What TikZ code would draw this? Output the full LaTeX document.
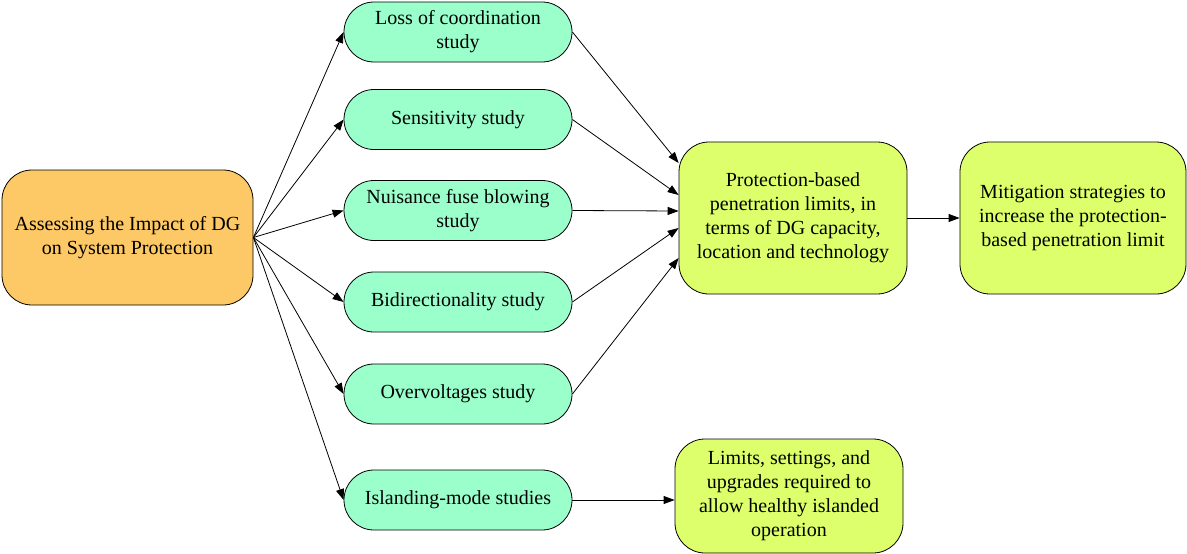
\documentclass[tikz,border=0pt]{standalone}
\usepackage{fontspec}
\setmainfont{Liberation Serif}
\definecolor{rootfill}{HTML}{FDC966}
\definecolor{studyfill}{HTML}{9BFFCC}
\definecolor{limitfill}{HTML}{DDFF6B}
\usetikzlibrary{shapes.misc, arrows.meta}

\begin{document}
\begin{tikzpicture}[x=1pt, y=-1pt,
    root/.style   = {rectangle, rounded corners=30pt, draw=black, line width=0.8pt,
                     fill=rootfill, minimum width=251pt, minimum height=135pt,
                     inner sep=0pt, align=center, font=\fontsize{20}{24}\selectfont},
    study/.style  = {rounded rectangle, draw=black, line width=0.8pt,
                     fill=studyfill, minimum width=228pt, minimum height=60pt,
                     inner sep=0pt, align=center, font=\fontsize{20}{24}\selectfont},
    result/.style = {rectangle, rounded corners=30pt, draw=black, line width=0.8pt,
                     fill=limitfill, minimum width=228pt,
                     inner sep=0pt, align=center, font=\fontsize{20}{24}\selectfont},
    arr/.style    = {-{Triangle[length=11pt, width=8pt]}, line width=0.8pt, color=black},
  ]
    \useasboundingbox (0,0) rectangle (1187,554);

    % ── Source node ──────────────────────────────────────────
    \node[root] (dg) at (127.5, 237.5) {Assessing the Impact of DG\\on System Protection};

    % ── Studies ──────────────────────────────────────────────
    \node[study] (loc) at (458, 32)    {Loss of coordination\\study};
    \node[study] (sen) at (458, 119.5) {Sensitivity study};
    \node[study] (nfb) at (458, 210.5) {Nuisance fuse blowing\\study};
    \node[study] (bid) at (458, 302)   {Bidirectionality study};
    \node[study] (ovv) at (458, 394)   {Overvoltages study};
    \node[study] (isl) at (458, 500)   {Islanding-mode studies};
    \foreach \s in {loc, sen, nfb, bid, ovv, isl}
      \draw[arr] (dg.east) -- (\s.west);

    % ── Results ──────────────────────────────────────────────
    \node[result, minimum height=152pt] (pen) at (793, 218)
      {Protection-based\\penetration limits, in\\terms of DG capacity,\\location and technology};
    \node[result, minimum width=226pt, minimum height=152pt] (mit) at (1073, 218)
      {Mitigation strategies to\\increase the protection-\\based penetration limit};
    \node[result, minimum height=114pt] (lim) at (789, 496)
      {Limits, settings, and\\upgrades required to\\allow healthy islanded\\operation};

    \draw[arr] (loc.east) -- ([yshift=55pt]pen.west);
    \draw[arr] (sen.east) -- ([yshift=23pt]pen.west);
    \draw[arr] (nfb.east) -- ([yshift=7pt]pen.west);
    \draw[arr] (bid.east) -- ([yshift=-10pt]pen.west);
    \draw[arr] (ovv.east) -- ([yshift=-40pt]pen.west);
    \draw[arr] (pen) -- (mit);
    \draw[arr] (isl.east) -- (isl.east -| lim.west);

  \end{tikzpicture}
\end{document}
